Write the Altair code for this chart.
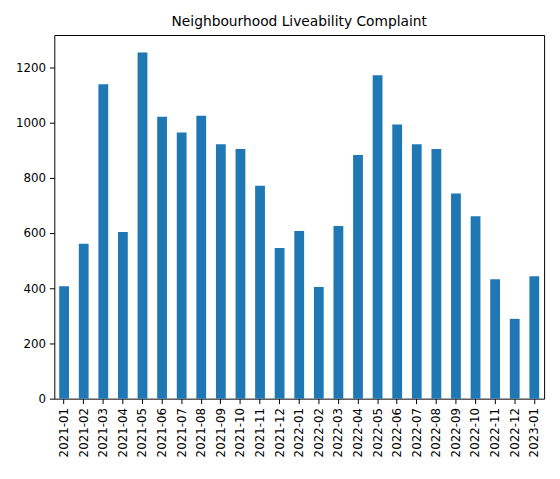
import altair as alt
import pandas as pd

MONTHS = [
    "2021-01", "2021-02", "2021-03", "2021-04", "2021-05", "2021-06", "2021-07",
    "2021-08", "2021-09", "2021-10", "2021-11", "2021-12", "2022-01", "2022-02",
    "2022-03", "2022-04", "2022-05", "2022-06", "2022-07", "2022-08", "2022-09",
    "2022-10", "2022-11", "2022-12", "2023-01",
]
COUNTS = [
    407, 561, 1139, 604, 1254, 1021, 964, 1025, 921, 904, 771, 546, 607, 404,
    625, 882, 1171, 993, 921, 904, 743, 661, 432, 289, 443,
]

df = pd.DataFrame({"month": MONTHS, "count": COUNTS})

chart = (
    alt.Chart(df)
    .mark_bar(color="#1f77b4")
    .encode(
        x=alt.X(
            "month:N",
            sort=MONTHS,
            title=None,
            scale=alt.Scale(paddingInner=0.5, paddingOuter=0.25),
            axis=alt.Axis(labelAngle=-90, labelFontSize=12, labelColor="black",
                          tickColor="black", domain=False, labelPadding=4),
        ),
        y=alt.Y(
            "count:Q",
            title=None,
            scale=alt.Scale(domain=[0, 1317], nice=False),
            axis=alt.Axis(values=[0, 200, 400, 600, 800, 1000, 1200], grid=False,
                          format="d", labelFontSize=12, labelColor="black",
                          tickColor="black", domain=False, labelPadding=4),
        ),
    )
    .properties(
        width=497,
        height=369,
        title=alt.TitleParams("Neighbourhood Liveability Complaint", fontSize=14,
                              fontWeight="normal", color="black", offset=6),
        autosize=alt.AutoSizeParams(type="none"),
        padding={"left": 47, "top": 24, "right": 8, "bottom": 70},
    )
    .configure(font="DejaVu Sans")
    .configure_view(stroke="black", strokeWidth=1)
)

chart.save("out.html", embed_options={"renderer": "svg", "actions": False})
